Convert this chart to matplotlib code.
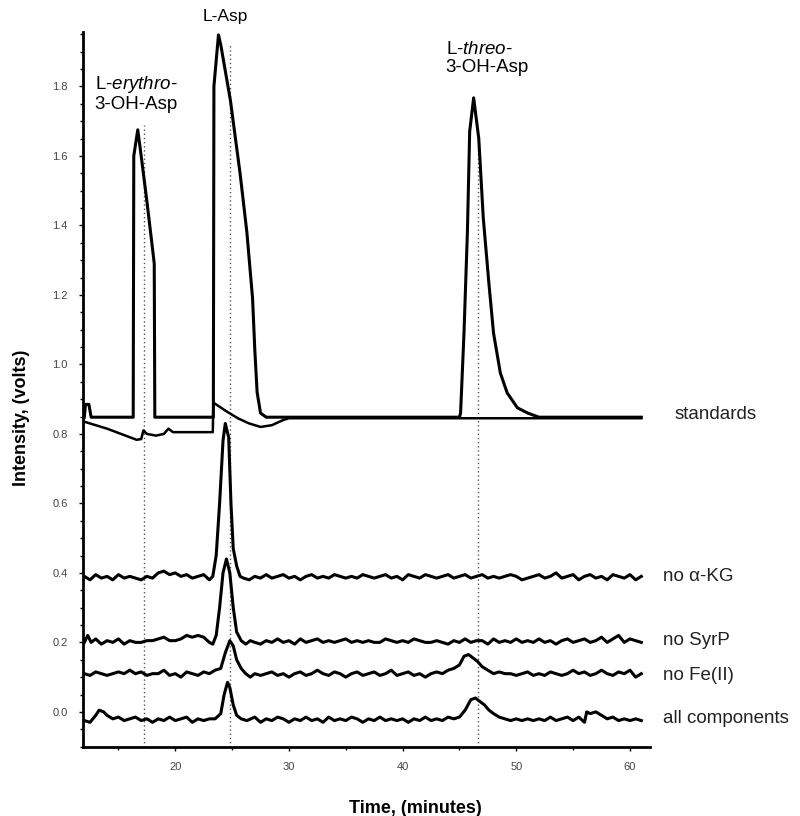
import matplotlib
matplotlib.use("Agg")
import matplotlib.pyplot as plt
from matplotlib.ticker import MultipleLocator

plt.rcParams['font.family'] = ['Liberation Sans', 'DejaVu Sans']
plt.rcParams['mathtext.fontset'] = 'custom'
plt.rcParams['mathtext.it'] = 'Liberation Sans:italic'

# --- standards (two overlaid runs) ---
std_t = [12.0, 12.1, 12.4, 12.6, 16.3, 16.35, 16.7, 17.0, 17.5, 17.9, 18.15, 18.2,
         23.35, 23.4, 23.8, 24.0, 24.85, 25.7, 26.3, 26.8, 27.0, 27.2, 27.5, 28.0,
         45.0, 45.1, 45.4, 45.7, 45.9, 46.25, 46.7, 47.1, 47.6, 48.0, 48.6, 49.2,
         50.1, 51.0, 52.0, 61.0]
std_v = [0.848, 0.885, 0.885, 0.848, 0.848, 1.6, 1.675, 1.6, 1.47, 1.36, 1.29, 0.848,
         0.848, 1.8, 1.948, 1.92, 1.76, 1.55, 1.38, 1.19, 1.04, 0.92, 0.86, 0.848,
         0.848, 0.86, 1.09, 1.38, 1.67, 1.767, 1.65, 1.42, 1.23, 1.09, 0.975, 0.918,
         0.875, 0.86, 0.848, 0.848]
std2_t = [12.0, 14.0, 16.6, 17.0, 17.2, 17.5, 18.3, 19.0, 19.4, 19.8, 20.5, 23.3,
          23.35, 24.5, 25.5, 26.5, 27.5, 28.5, 29.5, 30.0, 61.0]
std2_v = [0.835, 0.815, 0.783, 0.785, 0.81, 0.80, 0.795, 0.80, 0.815, 0.805, 0.805, 0.805,
          0.89, 0.865, 0.845, 0.83, 0.82, 0.825, 0.84, 0.845, 0.845]

# --- no alpha-KG ---
akg_t = [12.0, 12.5, 13.0, 13.5, 14.0, 14.5, 15.0, 15.5, 16.0, 16.5, 17.0, 17.5, 18.0,
         18.5, 19.0, 19.5, 20.0, 20.5, 21.0, 21.5, 22.0, 22.5, 23.0, 23.3, 23.6, 23.9,
         24.2, 24.4, 24.7, 24.9, 25.1, 25.4, 25.7, 26.0, 26.5, 27.0, 27.5, 28.0, 28.5,
         29.0, 29.5, 30.0, 30.5, 31.0, 31.5, 32.0, 32.5, 33.0, 33.5, 34.0, 34.5, 35.0,
         35.5, 36.0, 36.5, 37.0, 37.5, 38.0, 38.5, 39.0, 39.5, 40.0, 40.5, 41.0, 41.5,
         42.0, 42.5, 43.0, 43.5, 44.0, 44.5, 45.0, 45.5, 46.0, 46.5, 47.0, 47.5, 48.0,
         48.5, 49.0, 49.5, 50.0, 50.5, 51.0, 51.5, 52.0, 52.5, 53.0, 53.5, 54.0, 54.5,
         55.0, 55.5, 56.0, 56.5, 57.0, 57.5, 58.0, 58.5, 59.0, 59.5, 60.0, 60.5, 61.0]
akg_v = [0.39, 0.38, 0.395, 0.385, 0.39, 0.38, 0.395, 0.385, 0.39, 0.385, 0.38, 0.39, 0.385,
         0.40, 0.405, 0.395, 0.40, 0.39, 0.395, 0.385, 0.39, 0.395, 0.38, 0.39, 0.45, 0.60,
         0.78, 0.83, 0.79, 0.60, 0.47, 0.42, 0.39, 0.385, 0.38, 0.39, 0.385, 0.395, 0.385,
         0.39, 0.395, 0.385, 0.39, 0.38, 0.39, 0.395, 0.385, 0.39, 0.385, 0.395, 0.39, 0.385,
         0.39, 0.385, 0.395, 0.39, 0.385, 0.39, 0.395, 0.385, 0.39, 0.38, 0.395, 0.39, 0.385,
         0.395, 0.39, 0.385, 0.39, 0.395, 0.385, 0.39, 0.395, 0.385, 0.39, 0.395, 0.385, 0.39,
         0.385, 0.39, 0.395, 0.39, 0.38, 0.385, 0.39, 0.395, 0.385, 0.39, 0.40, 0.385, 0.39,
         0.395, 0.38, 0.39, 0.395, 0.385, 0.39, 0.38, 0.395, 0.39, 0.385, 0.395, 0.38, 0.39]

# --- no SyrP ---
syr_t = [12.0, 12.3, 12.6, 13.0, 13.5, 14.0, 14.5, 15.0, 15.5, 16.0, 16.5, 17.0, 17.5,
         18.0, 18.5, 19.0, 19.5, 20.0, 20.5, 21.0, 21.5, 22.0, 22.5, 23.0, 23.3, 23.6,
         23.9, 24.2, 24.5, 24.8, 25.1, 25.4, 25.8, 26.2, 26.6, 27.0, 27.5, 28.0, 28.5,
         29.0, 29.5, 30.0, 30.5, 31.0, 31.5, 32.0, 32.5, 33.0, 33.5, 34.0, 34.5, 35.0,
         35.5, 36.0, 36.5, 37.0, 37.5, 38.0, 38.5, 39.0, 39.5, 40.0, 40.5, 41.0, 41.5,
         42.0, 42.5, 43.0, 43.5, 44.0, 44.5, 45.0, 45.5, 46.0, 46.5, 47.0, 47.5, 48.0,
         48.5, 49.0, 49.5, 50.0, 50.5, 51.0, 51.5, 52.0, 52.5, 53.0, 53.5, 54.0, 54.5,
         55.0, 55.5, 56.0, 56.5, 57.0, 57.5, 58.0, 58.5, 59.0, 59.5, 60.0, 60.5, 61.0]
syr_v = [0.20, 0.22, 0.20, 0.21, 0.195, 0.205, 0.20, 0.21, 0.195, 0.205, 0.20, 0.20, 0.205,
         0.205, 0.21, 0.215, 0.205, 0.205, 0.21, 0.22, 0.215, 0.22, 0.215, 0.20, 0.195, 0.22,
         0.30, 0.40, 0.44, 0.40, 0.30, 0.23, 0.205, 0.195, 0.205, 0.20, 0.195, 0.205, 0.20,
         0.21, 0.20, 0.205, 0.195, 0.21, 0.20, 0.205, 0.21, 0.20, 0.205, 0.20, 0.205, 0.21,
         0.20, 0.205, 0.20, 0.205, 0.20, 0.20, 0.21, 0.205, 0.20, 0.205, 0.20, 0.21, 0.205,
         0.20, 0.20, 0.205, 0.20, 0.195, 0.205, 0.20, 0.21, 0.20, 0.205, 0.205, 0.195, 0.21,
         0.20, 0.205, 0.20, 0.21, 0.20, 0.205, 0.20, 0.21, 0.20, 0.205, 0.195, 0.205, 0.21,
         0.20, 0.205, 0.21, 0.20, 0.205, 0.215, 0.20, 0.21, 0.22, 0.20, 0.21, 0.205, 0.20]

# --- no Fe(II) ---
fe_t = [12.0, 12.5, 13.0, 13.5, 14.0, 14.5, 15.0, 15.5, 16.0, 16.5, 17.0, 17.5, 18.0,
        18.5, 19.0, 19.5, 20.0, 20.5, 21.0, 21.5, 22.0, 22.5, 23.0, 23.5, 24.0, 24.4,
        24.8, 25.1, 25.4, 25.8, 26.2, 26.6, 27.0, 27.5, 28.0, 28.5, 29.0, 29.5, 30.0,
        30.5, 31.0, 31.5, 32.0, 32.5, 33.0, 33.5, 34.0, 34.5, 35.0, 35.5, 36.0, 36.5,
        37.0, 37.5, 38.0, 38.5, 39.0, 39.5, 40.0, 40.5, 41.0, 41.5, 42.0, 42.5, 43.0,
        43.5, 44.0, 44.5, 45.0, 45.4, 45.8, 46.2, 46.6, 47.0, 47.5, 48.0, 48.5, 49.0,
        49.5, 50.0, 50.5, 51.0, 51.5, 52.0, 52.5, 53.0, 53.5, 54.0, 54.5, 55.0, 55.5,
        56.0, 56.5, 57.0, 57.5, 58.0, 58.5, 59.0, 59.5, 60.0, 60.5, 61.0]
fe_v = [0.11, 0.105, 0.115, 0.11, 0.105, 0.11, 0.115, 0.11, 0.12, 0.11, 0.115, 0.105, 0.11,
        0.11, 0.12, 0.105, 0.11, 0.10, 0.115, 0.11, 0.105, 0.115, 0.11, 0.12, 0.125, 0.17,
        0.205, 0.19, 0.15, 0.125, 0.11, 0.10, 0.11, 0.105, 0.11, 0.115, 0.105, 0.11, 0.10,
        0.11, 0.115, 0.105, 0.11, 0.12, 0.11, 0.105, 0.115, 0.11, 0.10, 0.11, 0.115, 0.105,
        0.11, 0.115, 0.105, 0.11, 0.12, 0.105, 0.11, 0.115, 0.105, 0.11, 0.10, 0.11, 0.115,
        0.11, 0.12, 0.125, 0.135, 0.16, 0.165, 0.155, 0.145, 0.13, 0.12, 0.11, 0.115, 0.11,
        0.11, 0.105, 0.11, 0.115, 0.105, 0.11, 0.105, 0.115, 0.11, 0.105, 0.11, 0.12, 0.11,
        0.115, 0.105, 0.11, 0.12, 0.11, 0.105, 0.115, 0.11, 0.12, 0.10, 0.11]

# --- all components ---
all_t = [12.0, 12.5, 13.0, 13.3, 13.7, 14.0, 14.5, 15.0, 15.5, 16.0, 16.5, 17.0, 17.5,
         18.0, 18.5, 19.0, 19.5, 20.0, 20.5, 21.0, 21.5, 22.0, 22.5, 23.0, 23.5, 24.0,
         24.3, 24.6, 24.8, 25.1, 25.4, 25.8, 26.3, 27.0, 27.5, 28.0, 28.5, 29.0, 29.5,
         30.0, 30.5, 31.0, 31.5, 32.0, 32.5, 33.0, 33.5, 34.0, 34.5, 35.0, 35.5, 36.0,
         36.5, 37.0, 37.5, 38.0, 38.5, 39.0, 39.5, 40.0, 40.5, 41.0, 41.5, 42.0, 42.5,
         43.0, 43.5, 44.0, 44.5, 45.0, 45.5, 46.0, 46.4, 46.8, 47.2, 47.6, 48.0, 48.5,
         49.0, 49.5, 50.0, 50.5, 51.0, 51.5, 52.0, 52.5, 53.0, 53.5, 54.0, 54.5, 55.0,
         55.5, 56.0, 56.2, 56.5, 57.0, 57.5, 58.0, 58.5, 59.0, 59.5, 60.0, 60.5, 61.0]
all_v = [-0.025, -0.03, -0.01, 0.005, 0.0, -0.01, -0.02, -0.015, -0.025, -0.02, -0.015, -0.025, -0.02,
         -0.03, -0.02, -0.025, -0.015, -0.025, -0.02, -0.015, -0.03, -0.02, -0.025, -0.02, -0.02, -0.005,
         0.05, 0.085, 0.07, 0.02, -0.01, -0.02, -0.025, -0.015, -0.03, -0.02, -0.025, -0.015, -0.02,
         -0.03, -0.02, -0.025, -0.015, -0.025, -0.02, -0.03, -0.015, -0.025, -0.02, -0.025, -0.015, -0.02,
         -0.03, -0.02, -0.025, -0.015, -0.025, -0.02, -0.025, -0.02, -0.03, -0.02, -0.025, -0.015, -0.025,
         -0.02, -0.025, -0.015, -0.02, -0.015, 0.005, 0.035, 0.04, 0.03, 0.02, 0.005, -0.005, -0.015,
         -0.02, -0.025, -0.02, -0.025, -0.02, -0.025, -0.02, -0.025, -0.015, -0.025, -0.02, -0.015, -0.025,
         -0.015, -0.03, 0.0, -0.005, 0.0, -0.01, -0.02, -0.015, -0.025, -0.02, -0.025, -0.02, -0.025]

trace_labels = ["standards", "no α-KG", "no SyrP", "no Fe(II)", "all components"]
label_x = [63.9, 62.9, 62.9, 62.9, 62.9]
label_y = [0.855, 0.39, 0.205, 0.105, -0.02]

marker_x = [17.25, 24.85, 46.6]
marker_top = [1.69, 1.92, 1.65]

fig = plt.figure(figsize=(8, 8.16), dpi=100)
ax = fig.add_axes([0.104, 0.085, 0.709, 0.876])

ax.vlines(marker_x, -0.1, marker_top, colors="#555555", linestyles=(0, (1, 2)), lw=1)

ax.plot(std2_t, std2_v, color="black", lw=1.8)
ax.plot(std_t, std_v, color="black", lw=2.2)
for t, v in [(akg_t, akg_v), (syr_t, syr_v), (fe_t, fe_v), (all_t, all_v)]:
    ax.plot(t, v, color="black", lw=2.2)

ax.set_xlim(11.9, 61.8)
ax.set_ylim(-0.1, 1.957)

for s in ["top", "right"]:
    ax.spines[s].set_visible(False)
for s in ["left", "bottom"]:
    ax.spines[s].set_linewidth(2)

ax.xaxis.set_minor_locator(MultipleLocator(5))
ax.yaxis.set_minor_locator(MultipleLocator(0.05))
ax.tick_params(which="major", length=3, width=1, labelsize=8, labelcolor="#444444", pad=8)
ax.tick_params(which="minor", length=2, width=1)
ax.set_xticks([20, 30, 40, 50, 60])
ax.set_xticklabels(["20", "30", "40", "50", "60"])
ax.set_yticks([0.0, 0.2, 0.4, 0.6, 0.8, 1.0, 1.2, 1.4, 1.6, 1.8])
ax.set_yticklabels(["0.0", "0.2", "0.4", "0.6", "0.8", "1.0", "1.2", "1.4", "1.6", "1.8"])

ax.set_xlabel("Time, (minutes)", fontsize=13, fontweight="bold")
ax.xaxis.set_label_coords(0.585, -0.074)
ax.set_ylabel("Intensity, (volts)", fontsize=13, fontweight="bold")
ax.yaxis.set_label_coords(-0.093, 0.46)

for lab, x, y in zip(trace_labels, label_x, label_y):
    ax.text(x, y, lab, fontsize=13.5, color="#222222", va="center", ha="left", clip_on=False)

ax.text(24.4, 2.0, "L-Asp", fontsize=12.5, ha="center", va="center", clip_on=False)
ax.text(12.9, 1.78, "L-$\\mathit{erythro}$-\n3-OH-Asp", fontsize=13.5, ha="left", va="center",
        linespacing=1.1)
ax.text(43.8, 1.88, "L-$\\mathit{threo}$-\n3-OH-Asp", fontsize=13.5, ha="left", va="center",
        linespacing=1.1)

fig.savefig("out.png", dpi=100)
